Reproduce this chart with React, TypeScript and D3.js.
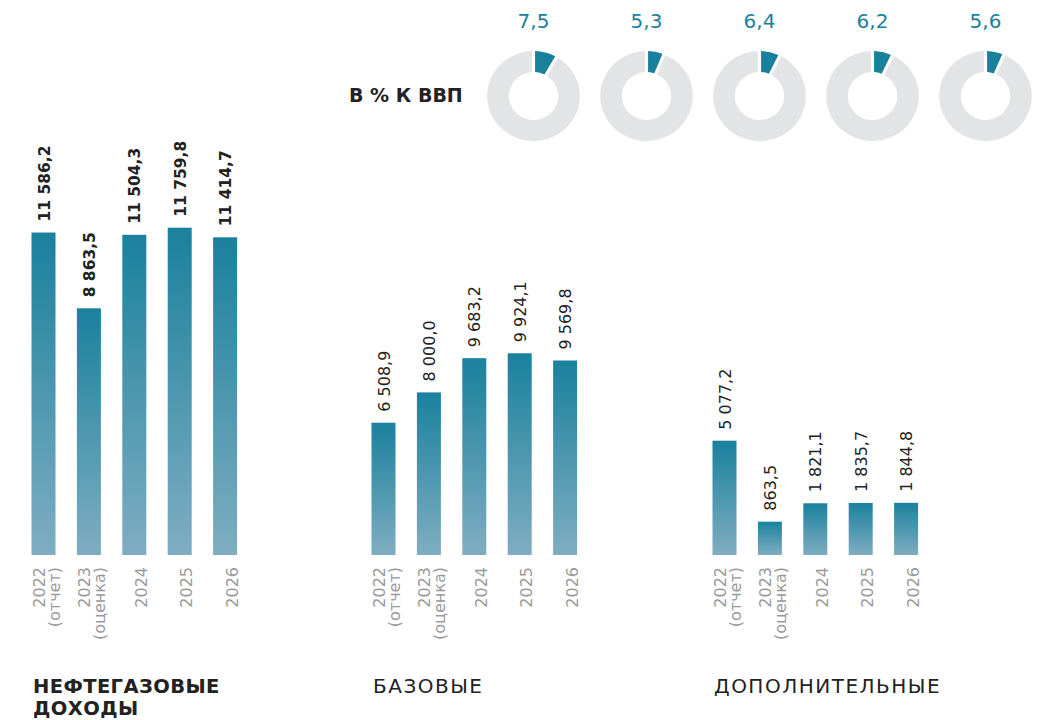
import React from "react";
import * as d3 from "d3";

const groupTitles = [["НЕФТЕГАЗОВЫЕ", "ДОХОДЫ"], ["БАЗОВЫЕ"], ["ДОПОЛНИТЕЛЬНЫЕ"]];
const yearLabels = [["2022", "(отчет)"], ["2023", "(оценка)"], ["2024"], ["2025"], ["2026"]];
const oilGas = [11586.2, 8863.5, 11504.3, 11759.8, 11414.7];
const baseRev = [6508.9, 8000.0, 9683.2, 9924.1, 9569.8];
const additional = [5077.2, 863.5, 1821.1, 1835.7, 1844.8];
const gdpShare = [7.5, 5.3, 6.4, 6.2, 5.6];
const gdpTitle = "В % К ВВП";

const series = [oilGas, baseRev, additional];

const W = 1058;
const H = 720;
const FONT = "'DejaVu Sans', sans-serif";
const TEAL = "#1a819d";
const baseline = 555;
const groupX0 = [31.5, 371.5, 712.5];
const groupTop = [227.7, 353.3, 440.7];
const groupDomainMin = [0, 0, -870];
const step = 45.4;
const barW = 24;

const locale = d3.formatLocale({ decimal: ",", thousands: "\u00a0", grouping: [3], currency: ["", ""] });
const fmt = locale.format(",.1f");

export default function App() {
  const pie = d3.pie<number>().sort(null).padAngle(0.06);
  const arc = d3.arc<d3.PieArcDatum<number>>().innerRadius(24).outerRadius(45);
  const donutX = d3.scaleLinear().domain([0, 4]).range([533.5, 985.5]);

  return (
    <svg width={W} height={H} style={{ position: "absolute", left: 0, top: 0, background: "#fff" }} fontFamily={FONT}>
      <defs>
        <linearGradient id="barGrad" x1="0" y1="0" x2="0" y2="1">
          <stop offset="0%" stopColor="#1a819d" />
          <stop offset="100%" stopColor="#7fadc1" />
        </linearGradient>
      </defs>

      {/* Donuts */}
      <text x={349} y={102} fontSize={19} fontWeight="bold" fill="#222">{gdpTitle}</text>
      {gdpShare.map((v, i) => {
        const arcs = pie([v, 100 - v]);
        const cx = donutX(i);
        return (
          <g key={"d" + i}>
            <text x={cx} y={28} textAnchor="middle" fontSize={20} fill={TEAL}>
              {d3.format(".1f")(v).replace(".", ",")}
            </text>
            <g transform={`translate(${cx},96) scale(1.03,1)`}>
              <path d={arc(arcs[1]) || ""} fill="#e3e4e6" />
              <path d={arc(arcs[0]) || ""} fill={TEAL} />
            </g>
          </g>
        );
      })}

      {/* Bar groups */}
      {series.map((vals, g) => {
        const n = vals.length;
        const x = d3.scaleBand<number>()
          .domain(d3.range(n))
          .range([groupX0[g], groupX0[g] + step * (n - 1) + barW])
          .paddingInner(1 - barW / step)
          .paddingOuter(0);
        const y = d3.scaleLinear()
          .domain([groupDomainMin[g], d3.max(vals) as number])
          .range([baseline, groupTop[g]]);
        return (
          <g key={"g" + g}>
            {vals.map((v, i) => {
              const bx = x(i) as number;
              const bw = x.bandwidth();
              const top = y(v);
              const cx = bx + bw / 2;
              return (
                <g key={i}>
                  <rect x={bx} y={top} width={bw} height={baseline - top} fill="url(#barGrad)" />
                  <text
                    transform={`translate(${cx + 6},${top - 11}) rotate(-90)`}
                    fontSize={g === 0 ? 15.5 : 16}
                    fontWeight={g === 0 ? "bold" : "normal"}
                    fill="#222"
                  >
                    {fmt(v)}
                  </text>
                  {yearLabels[i].length === 2 ? (
                    <>
                      <text transform={`translate(${cx + 1},${baseline + 12}) rotate(-90)`} textAnchor="end" fontSize={16} fill="#9a9a9a">{yearLabels[i][0]}</text>
                      <text transform={`translate(${cx + 16},${baseline + 12}) rotate(-90)`} textAnchor="end" fontSize={16} fill="#9a9a9a">{yearLabels[i][1]}</text>
                    </>
                  ) : (
                    <text transform={`translate(${cx + 12.5},${baseline + 12}) rotate(-90)`} textAnchor="end" fontSize={16} fill="#9a9a9a">{yearLabels[i][0]}</text>
                  )}
                </g>
              );
            })}
            {groupTitles[g].map((t, k) => (
              <text key={"t" + k} x={groupX0[g] + 1.5} y={693 + k * 22} fontSize={g === 0 ? 19.5 : 20} letterSpacing={g === 0 ? 0.4 : 1.5} fontWeight={g === 0 ? "bold" : "normal"} fill="#222">
                {t}
              </text>
            ))}
          </g>
        );
      })}
    </svg>
  );
}
